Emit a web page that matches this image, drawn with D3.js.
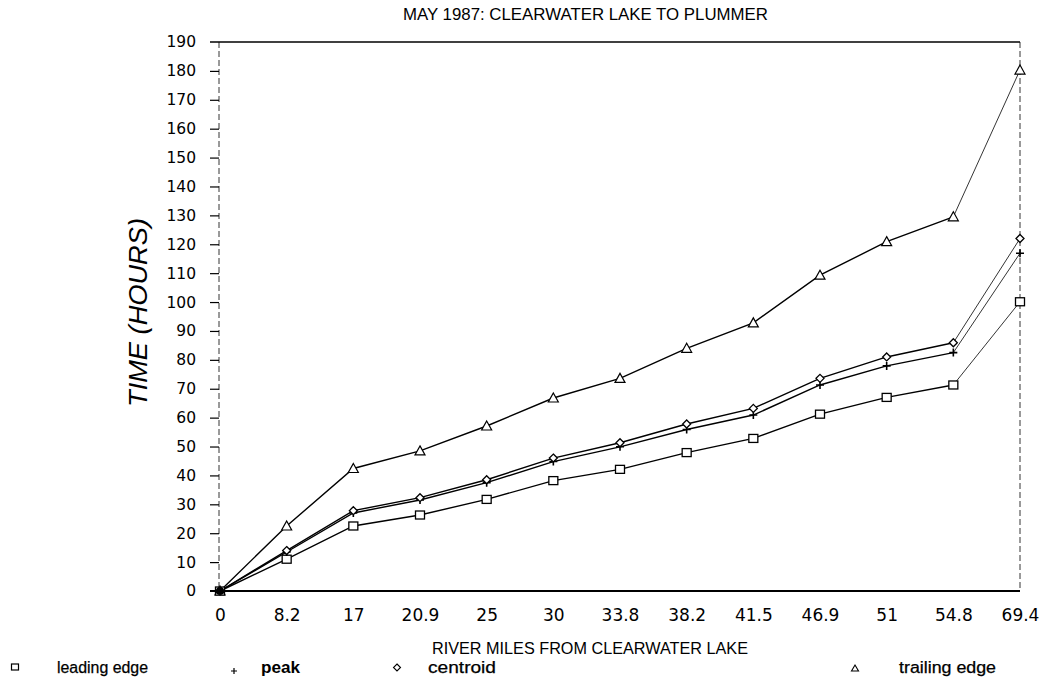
<!DOCTYPE html>
<html><head><meta charset="utf-8">
<script src="https://cdn.jsdelivr.net/npm/d3@7"></script>
<style>
body{margin:0;background:#fff;}
text{font-family:"Liberation Sans",Arial,sans-serif;fill:#000;}
</style></head>
<body><svg id="c" width="1044" height="683"></svg>
<script>
const categories = ["0","8.2","17","20.9","25","30","33.8","38.2","41.5","46.9","51","54.8","69.4"];
const leadingEdge = [0,11,22.5,26.3,31.7,38.2,42.1,47.9,52.8,61.2,67,71.3,100.1];
const peak        = [0,13.5,27,31.5,37.5,44.8,49.9,55.9,60.9,71.3,77.9,82.5,116.9];
const centroid    = [0,14,27.8,32.3,38.5,46,51.3,57.8,63.2,73.6,81,85.9,122];
const trailingEdge= [0,22.5,42.4,48.5,57.1,66.8,73.6,84,92.8,109.3,120.9,129.5,180.3];
const yTicks = d3.range(0,191,10);
const seriesNames = ["leading edge","peak","centroid","trailing edge"];

const svg = d3.select("#c");
const L=220,R=1020,T=42,B=591;
const x = d3.scalePoint().domain(categories).range([L,R]);
const y = d3.scaleLinear().domain([0,190]).range([B,T]);

// frame
svg.append("line").attr("x1",210).attr("x2",R).attr("y1",T).attr("y2",T).attr("stroke","#000").attr("stroke-width",1.5);
svg.append("line").attr("x1",210).attr("x2",R).attr("y1",B).attr("y2",B).attr("stroke","#000").attr("stroke-width",1.8);
svg.append("line").attr("x1",L-1).attr("x2",L-1).attr("y1",T).attr("y2",B).attr("stroke","#000").attr("stroke-width",0.8).attr("stroke-dasharray","6,3");
svg.append("line").attr("x1",R).attr("x2",R).attr("y1",T).attr("y2",B).attr("stroke","#000").attr("stroke-width",0.8).attr("stroke-dasharray","6,3");

const tickFont = "DejaVu Sans, Verdana, sans-serif";
// y axis
const ya = svg.append("g").attr("transform",`translate(${L-1},0)`)
  .call(d3.axisLeft(y).tickValues(yTicks).tickSize(9).tickPadding(14));
ya.select(".domain").remove();
ya.selectAll("text").style("font-size","15.5px").style("font-family",tickFont);
ya.selectAll("line").attr("stroke-width",1.2);
ya.selectAll(".tick").filter(d=>d===0||d===190).select("line").remove();

// x axis
const xa = svg.append("g").attr("transform",`translate(0,${B})`)
  .call(d3.axisBottom(x).tickSize(0).tickPadding(18));
xa.select(".domain").remove();
xa.selectAll("text").style("font-size","17px").style("font-family",tickFont);

// titles
svg.append("text").attr("x",403).attr("y",20).attr("textLength",365).attr("lengthAdjust","spacingAndGlyphs").style("font-size","16.5px").text("MAY 1987: CLEARWATER LAKE TO PLUMMER");
svg.append("text").attr("transform","translate(147,407) rotate(-90)").attr("textLength",189).attr("lengthAdjust","spacingAndGlyphs").style("font-size","26px").style("font-style","italic").text("TIME (HOURS)");
svg.append("text").attr("x",432).attr("y",654).attr("textLength",316).attr("lengthAdjust","spacingAndGlyphs").style("font-size","16.5px").text("RIVER MILES FROM CLEARWATER LAKE");

const line = d3.line().x((d,i)=>x(categories[i])).y(d=>y(d));
const allSeries = [leadingEdge,peak,centroid,trailingEdge];
allSeries.forEach(s=>{
  svg.append("path").datum(s.slice(0,12)).attr("d",line).attr("fill","none").attr("stroke","#000").attr("stroke-width",1.4);
  svg.append("path").datum([s[11],s[12]]).attr("d",d3.line().x((d,i)=>x(categories[11+i])).y(d=>y(d)))
    .attr("fill","none").attr("stroke","#000").attr("stroke-width",0.8);
});

function marker(g,type,cx,cy){
  if(type==="square") g.append("rect").attr("x",cx-4.5).attr("y",cy-4).attr("width",9).attr("height",8).attr("fill","#fff").attr("stroke","#000").attr("stroke-width",1.3);
  if(type==="plus") g.append("path").attr("d",`M${cx-4},${cy}H${cx+4}M${cx},${cy-4}V${cy+4}`).attr("stroke","#000").attr("stroke-width",1.6);
  if(type==="diamond") g.append("path").attr("d",`M${cx},${cy-4}L${cx+4},${cy}L${cx},${cy+4}L${cx-4},${cy}Z`).attr("fill","#fff").attr("stroke","#000").attr("stroke-width",1.3);
  if(type==="triangle") g.append("path").attr("d",`M${cx},${cy-5}L${cx+5},${cy+4}L${cx-5},${cy+4}Z`).attr("fill","#fff").attr("stroke","#000").attr("stroke-width",1.2);
}
const types=["square","plus","diamond","triangle"];
const mg = svg.append("g");
allSeries.forEach((s,k)=>{
  s.forEach((v,i)=>marker(mg,types[k],x(categories[i]),y(v)));
});
svg.append("circle").attr("cx",x("0")).attr("cy",y(0)).attr("r",4).attr("fill","#000");

// legend
const lg = svg.append("g");
const legX=[[15,57],[234,261],[397,428],[855,899]];
const legLen=[91,39,68,97];
seriesNames.forEach((n,k)=>{
  const g=lg.append("g");
  const cx=legX[k][0];
  if(k===0) g.append("rect").attr("x",cx-3.5).attr("y",664).attr("width",7).attr("height",6).attr("fill","none").attr("stroke","#000").attr("stroke-width",1.2);
  if(k===1) g.append("path").attr("d",`M${cx-3},671H${cx+3}M${cx},668V674`).attr("stroke","#000").attr("stroke-width",1.2);
  if(k===2) g.append("path").attr("d",`M${cx},664L${cx+3.5},667.5L${cx},671L${cx-3.5},667.5Z`).attr("fill","none").attr("stroke","#000").attr("stroke-width",1.1);
  if(k===3) g.append("path").attr("d",`M${cx},665L${cx+3.5},671L${cx-3.5},671Z`).attr("fill","none").attr("stroke","#000").attr("stroke-width",1.1);
  g.append("text").attr("x",legX[k][1]).attr("y",673).attr("textLength",legLen[k]).attr("lengthAdjust","spacingAndGlyphs")
    .style("font-size","16px").style("font-weight",k===1?"bold":"normal")
    .attr("stroke",k===1?"none":"#000").attr("stroke-width",0.25).text(n);
});
</script></body></html>
